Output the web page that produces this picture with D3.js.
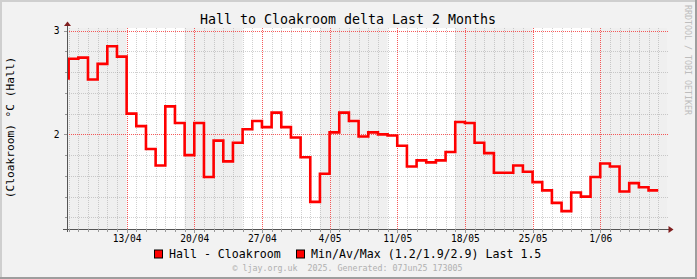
<!DOCTYPE html>
<html>
<head>
<meta charset="utf-8">
<script src="https://cdn.jsdelivr.net/npm/d3@7"></script>
<style>
  body { margin: 0; background: #f2f2f2; }
  text { font-family: "DejaVu Sans Mono", monospace; }
</style>
</head>
<body>
<div id="chart"></div>
<script>
// daily average of Hall - Cloakroom, one value per day starting 6 Apr 2025
const firstDay = Date.UTC(2025, 3, 6);
const deltaValues = [
  2.54, 2.73, 2.74, 2.53, 2.68, 2.85, 2.75,
  2.20, 2.08, 1.86, 1.70, 2.27, 2.11, 1.80,
  2.11, 1.59, 1.94, 1.74, 1.92, 2.05, 2.13,
  2.07, 2.21, 2.07, 1.97, 1.78, 1.35, 1.62,
  2.02, 2.21, 2.13, 1.98, 2.02, 2.00, 1.99,
  1.89, 1.69, 1.75, 1.73, 1.75, 1.83, 2.12,
  2.11, 1.92, 1.82, 1.63, 1.63, 1.70, 1.64,
  1.54, 1.46, 1.34, 1.26, 1.44, 1.40, 1.59,
  1.72, 1.69, 1.45, 1.53, 1.49, 1.46
];
// shaded periods [from, to]
const shadeStarts = ["2025-04-01", "2025-04-19", "2025-05-03", "2025-05-17", "2025-05-31"];
const shadeEnds   = ["2025-04-13", "2025-04-25", "2025-05-10", "2025-05-25", "2025-06-30"];
const yMajorTicks = [2, 3];
const yMinorTicks = [1.2, 1.4, 1.6, 1.8, 2.2, 2.4, 2.6, 2.8];
const legendText = ["Hall - Cloakroom", "Min/Av/Max (1.2/1.9/2.9) Last 1.5"];

const W = 697, H = 279;
const plot = {left: 67, right: 667, top: 28, bottom: 229};

const svg = d3.select('#chart').append('svg')
    .attr('width', W).attr('height', H);

svg.append('rect').attr('width', W).attr('height', H).attr('fill', '#f2f2f2');
// 3d frame
svg.append('path').attr('d', 'M0,' + H + 'V0H' + W).attr('fill', 'none')
    .attr('stroke', '#cfcfcf').attr('stroke-width', 4);
svg.append('path').attr('d', 'M0,' + H + 'H' + W + 'V0').attr('fill', 'none')
    .attr('stroke', '#9e9e9e').attr('stroke-width', 4);

const x = d3.scaleUtc()
    .domain([new Date(Date.UTC(2025, 3, 6, 19, 55)), new Date(Date.UTC(2025, 5, 7, 21, 50))])
    .range([plot.left, plot.right]);
const y = d3.scaleLinear()
    .domain([1.088, 3.026])
    .range([plot.bottom, plot.top]);

svg.append('clipPath').attr('id', 'canvas-clip')
    .append('rect')
    .attr('x', plot.left).attr('y', plot.top)
    .attr('width', plot.right - plot.left).attr('height', plot.bottom - plot.top);

let canvas = svg.append('g').attr('clip-path', 'url(#canvas-clip)');
canvas.append('rect')
    .attr('x', plot.left).attr('y', plot.top)
    .attr('width', plot.right - plot.left).attr('height', plot.bottom - plot.top)
    .attr('fill', '#fff');

let parseDay = d3.utcParse('%Y-%m-%d');
canvas.selectAll('rect.shade')
    .data(shadeStarts.map(function(s, i) { return [parseDay(s), parseDay(shadeEnds[i])]; }))
    .enter()
    .append('rect')
    .classed('shade', true)
    .attr('x', function(d) { return x(d[0]); })
    .attr('width', function(d) { return x(d[1]) - x(d[0]); })
    .attr('y', plot.top)
    .attr('height', plot.bottom - plot.top)
    .attr('fill', '#efefef');

// grid
const minorColor = 'rgba(143,143,143,0.42)';
const majorColor = 'rgba(245,50,50,0.8)';
let days = x.ticks(d3.utcDay.every(1));
let weeks = x.ticks(d3.utcSunday.every(1));

let grid = svg.append('g').attr('shape-rendering', 'crispEdges');
grid.selectAll('line.vminor')
    .data(days.filter(function(d) { return d.getUTCDay() !== 0; }))
    .enter().append('line')
    .attr('x1', function(d) { return Math.round(x(d)) + 0.5; })
    .attr('x2', function(d) { return Math.round(x(d)) + 0.5; })
    .attr('y1', plot.top).attr('y2', plot.bottom)
    .attr('stroke', minorColor).attr('stroke-dasharray', '1,1');
grid.selectAll('line.hminor')
    .data(yMinorTicks)
    .enter().append('line')
    .attr('x1', plot.left).attr('x2', plot.right + 1)
    .attr('y1', function(d) { return Math.round(y(d)) + 0.5; })
    .attr('y2', function(d) { return Math.round(y(d)) + 0.5; })
    .attr('stroke', minorColor).attr('stroke-dasharray', '1,1');
grid.selectAll('line.vmajor')
    .data(weeks)
    .enter().append('line')
    .attr('x1', function(d) { return Math.round(x(d)) + 0.5; })
    .attr('x2', function(d) { return Math.round(x(d)) + 0.5; })
    .attr('y1', plot.top).attr('y2', plot.bottom)
    .attr('stroke', majorColor).attr('stroke-dasharray', '1,1');
grid.selectAll('line.hmajor')
    .data(yMajorTicks)
    .enter().append('line')
    .attr('x1', plot.left).attr('x2', plot.right + 1)
    .attr('y1', function(d) { return Math.round(y(d)) + 0.5; })
    .attr('y2', function(d) { return Math.round(y(d)) + 0.5; })
    .attr('stroke', majorColor).attr('stroke-dasharray', '1,1');

// data line
let points = deltaValues.map(function(v, i) {
    return [new Date(firstDay + i * 864e5), v];
});
points.push([new Date(firstDay + deltaValues.length * 864e5), deltaValues[deltaValues.length - 1]]);

let line = d3.line()
    .x(function(d) { return x(d[0]); })
    .y(function(d) { return y(d[1]); })
    .curve(d3.curveStepAfter);

svg.append('g').attr('clip-path', 'url(#canvas-clip)')
    .append('path')
    .datum(points)
    .attr('d', line)
    .attr('fill', 'none')
    .attr('stroke', '#ff0000')
    .attr('stroke-width', 2.6)
    .attr('stroke-linejoin', 'miter');

// axes
let axis = svg.append('g').attr('shape-rendering', 'crispEdges');
axis.append('line')
    .attr('x1', plot.left + 0.5).attr('x2', plot.left + 0.5)
    .attr('y1', 24).attr('y2', plot.bottom + 3)
    .attr('stroke', '#555');
axis.append('line')
    .attr('x1', plot.left - 4).attr('x2', plot.right + 2)
    .attr('y1', plot.bottom + 0.5).attr('y2', plot.bottom + 0.5)
    .attr('stroke', '#555');
axis.selectAll('line.xtick')
    .data(days)
    .enter().append('line')
    .attr('x1', function(d) { return Math.round(x(d)) + 0.5; })
    .attr('x2', function(d) { return Math.round(x(d)) + 0.5; })
    .attr('y1', plot.bottom)
    .attr('y2', function(d) { return plot.bottom + (d.getUTCDay() === 0 ? 4 : 3); })
    .attr('stroke', '#999');
axis.selectAll('line.ytick')
    .data(yMinorTicks.concat(yMajorTicks))
    .enter().append('line')
    .attr('x1', function(d) { return plot.left - (yMajorTicks.includes(d) ? 3 : 2); })
    .attr('x2', plot.left)
    .attr('y1', function(d) { return Math.round(y(d)) + 0.5; })
    .attr('y2', function(d) { return Math.round(y(d)) + 0.5; })
    .attr('stroke', '#999');

svg.append('path')
    .attr('d', 'M' + (plot.left + 0.5) + ',21.5 l-3.5,4.5 h7 z')
    .attr('fill', '#801f1f');
svg.append('path')
    .attr('d', 'M' + (plot.right + 6.5) + ',' + (plot.bottom + 0.5) + ' l-5,-3.5 v7 z')
    .attr('fill', '#801f1f');

// labels
svg.selectAll('text.ylab')
    .data(yMajorTicks)
    .enter().append('text')
    .attr('x', 59.5)
    .attr('y', function(d) { return y(d) + 3.5; })
    .attr('text-anchor', 'end')
    .attr('font-size', '9.6px')
    .text(function(d) { return d; });

let dayFormat = d3.utcFormat('%-d/%m');
svg.selectAll('text.xlab')
    .data(weeks)
    .enter().append('text')
    .attr('x', function(d) { return x(d) + 0.5; })
    .attr('y', 241.5)
    .attr('text-anchor', 'middle')
    .attr('font-size', '9.6px')
    .text(dayFormat);

svg.append('text')
    .attr('x', 348).attr('y', 24)
    .attr('text-anchor', 'middle')
    .attr('font-size', '13.3px')
    .text('Hall to Cloakroom delta Last 2 Months');

svg.append('text')
    .attr('transform', 'translate(13.5,127.5) rotate(-90)')
    .attr('text-anchor', 'middle')
    .attr('font-size', '11.2px')
    .text('(Cloakroom) \u00b0C (Hall)');

svg.append('text')
    .attr('transform', 'translate(685,5) rotate(90)')
    .attr('font-size', '8.3px')
    .attr('fill', '#bdbdbd')
    .text('RRDTOOL / TOBI OETIKER');

// legend
let legendX = [154.5, 296.5];
let legend = svg.selectAll('g.legend')
    .data(legendText)
    .enter().append('g')
    .attr('transform', function(d, i) { return 'translate(' + legendX[i] + ',250)'; });
legend.append('rect')
    .attr('width', 8).attr('height', 8)
    .attr('fill', '#ff0000').attr('stroke', '#000').attr('stroke-width', 1);
legend.append('text')
    .attr('x', 14.5).attr('y', 8.3)
    .attr('font-size', '11.6px')
    .text(function(d) { return d; });

svg.append('text')
    .attr('x', 347.5).attr('y', 270.7)
    .attr('text-anchor', 'middle')
    .attr('font-size', '8.3px')
    .attr('fill', '#b0b0b0')
    .attr('xml:space', 'preserve')
    .style('white-space', 'pre')
    .text('\u00a9 ljay.org.uk  2025. Generated: 07Jun25 173005');
</script>
</body>
</html>
